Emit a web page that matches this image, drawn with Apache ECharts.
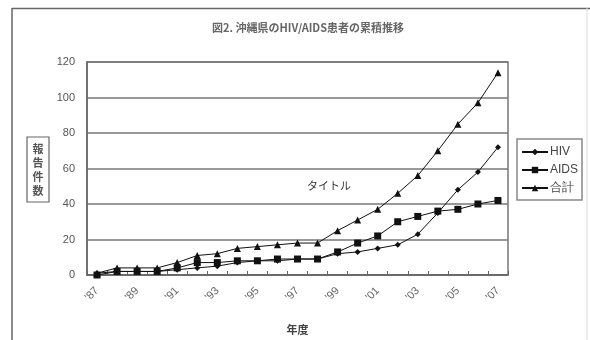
<!DOCTYPE html>
<html><head><meta charset="utf-8">
<script src="https://cdn.jsdelivr.net/npm/echarts@6/dist/echarts.min.js"></script>
<style>html,body{margin:0;padding:0;background:#fff}#c{width:590px;height:340px}</style>
</head><body><div id="c"></div>
<script>
const years = ["'87","'88","'89","'90","'91","'92","'93","'94","'95","'96","'97","'98","'99","'00","'01","'02","'03","'04","'05","'06","'07"];
const hiv   = [1,2,2,2,3,4,5,7,8,8,9,9,12,13,15,17,23,35,48,58,72];
const aids  = [0,2,2,2,4,7,7,8,8,9,9,9,13,18,22,30,33,36,37,40,42];
const total = [1,4,4,4,7,11,12,15,16,17,18,18,25,31,37,46,56,70,85,97,114];
const yTicks = {min:0, max:120, interval:20};

const font = '"Noto Sans CJK JP", "Noto Sans", sans-serif';
const numFont = '"Liberation Sans", Arial, sans-serif';
const chart = echarts.init(document.getElementById('c'), null, {renderer:'canvas'});
const lineStyle = {color:'#111', width:1};
const mk = (name, data, sym, size) => ({
  name, type:'line', data, symbol:sym, symbolSize:size, showSymbol:true,
  lineStyle, itemStyle:{color:'#111'}, animation:false, z:3
});
chart.setOption({
  animation:false,
  textStyle:{fontFamily:font},
  title:{text:'図2. 沖縄県のHIV/AIDS患者の累積推移', left:303, top:17, textAlign:'center',
    textStyle:{fontSize:11, fontWeight:'bold', color:'#666', fontFamily:font}},
  grid:{left:87, top:62, right:82, bottom:65, containLabel:false, outerBoundsMode:'none',
    show:true, borderColor:'#777', borderWidth:1.5, backgroundColor:'transparent'},
  legend:{orient:'vertical', left:517, top:139, itemWidth:26, itemHeight:8, itemGap:6,
    padding:[7,4,6,4], borderColor:'#888', borderWidth:1.5,
    textStyle:{fontSize:12, color:'#444', fontFamily:numFont, padding:[0,0,0,-3]},
    data:['HIV','AIDS','合計']},
  xAxis:{type:'category', data:years, boundaryGap:true, name:'年度', nameLocation:'middle', nameGap:49,
    nameTextStyle:{fontSize:11, color:'#444', fontFamily:font, fontWeight:'bold'},
    axisLine:{lineStyle:{color:'#666', width:1.5}},
    axisTick:{show:true, inside:true, length:4, interval:0, lineStyle:{color:'#666'}},
    axisLabel:{interval:1, rotate:45, fontSize:11, color:'#666', margin:14, fontFamily:numFont},
    splitLine:{show:false}},
  yAxis:{type:'value', min:yTicks.min, max:yTicks.max, interval:yTicks.interval,
    axisLine:{show:true, lineStyle:{color:'#666', width:1.5}},
    axisTick:{show:false},
    axisLabel:{fontSize:11, color:'#555', margin:12, fontFamily:numFont},
    splitLine:{lineStyle:{color:'#777', width:1.5}}},
  series:[mk('HIV', hiv, 'diamond', 6), mk('AIDS', aids, 'rect', 7), mk('合計', total, 'triangle', 7)],
  graphic:[
    {type:'line', shape:{x1:12, y1:8.5, x2:590, y2:8.5}, style:{stroke:'#666', lineWidth:1.5}},
    {type:'line', shape:{x1:12, y1:8, x2:12, y2:340}, style:{stroke:'#666', lineWidth:1.5}},
    {type:'line', shape:{x1:587, y1:8, x2:587, y2:340}, style:{stroke:'#ddd', lineWidth:1}},
    {type:'rect', shape:{x:27, y:137, width:22, height:65}, style:{fill:'#fff', stroke:'#666', lineWidth:1.2}},
    {type:'text', x:38, y:169.5, style:{text:'報\n告\n件\n数', align:'center', verticalAlign:'middle',
      font:'bold 11px '+font, fill:'#555', lineHeight:14}},
    {type:'text', x:307, y:186, style:{text:'タイトル', verticalAlign:'middle', font:'11px '+font, fill:'#333'}}
  ]
});
</script></body></html>
